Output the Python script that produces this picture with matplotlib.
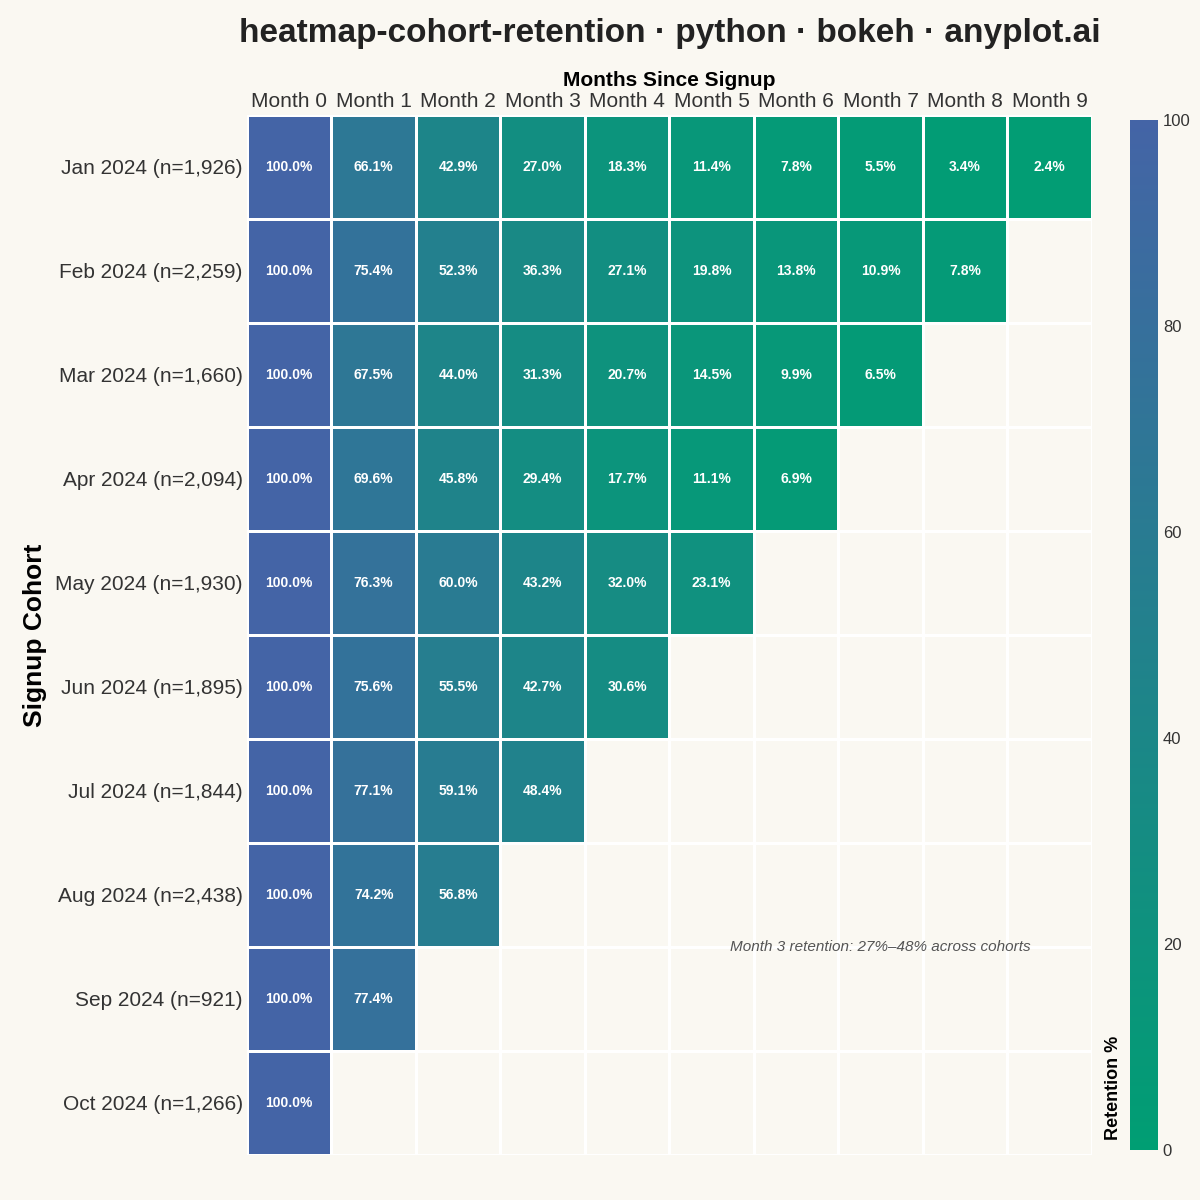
import numpy as np
import matplotlib as mpl
mpl.use('Agg')
import matplotlib.pyplot as plt
from matplotlib.colors import LinearSegmentedColormap

plt.rcParams['font.family'] = ['Liberation Sans', 'DejaVu Sans']

cohorts = ['Jan 2024', 'Feb 2024', 'Mar 2024', 'Apr 2024', 'May 2024',
           'Jun 2024', 'Jul 2024', 'Aug 2024', 'Sep 2024', 'Oct 2024']
sizes = [1926, 2259, 1660, 2094, 1930, 1895, 1844, 2438, 921, 1266]
months = ['Month %d' % i for i in range(10)]
retention = [
    [100.0, 66.1, 42.9, 27.0, 18.3, 11.4, 7.8, 5.5, 3.4, 2.4],
    [100.0, 75.4, 52.3, 36.3, 27.1, 19.8, 13.8, 10.9, 7.8],
    [100.0, 67.5, 44.0, 31.3, 20.7, 14.5, 9.9, 6.5],
    [100.0, 69.6, 45.8, 29.4, 17.7, 11.1, 6.9],
    [100.0, 76.3, 60.0, 43.2, 32.0, 23.1],
    [100.0, 75.6, 55.5, 42.7, 30.6],
    [100.0, 77.1, 59.1, 48.4],
    [100.0, 74.2, 56.8],
    [100.0, 77.4],
    [100.0],
]

bg = '#FAF8F2'
cmap = LinearSegmentedColormap.from_list('ret', ['#009E73', '#4464A6'])

grid = np.full((len(cohorts), len(months)), np.nan)
for i, row in enumerate(retention):
    grid[i, :len(row)] = row
data = np.ma.masked_invalid(grid)

fig = plt.figure(figsize=(12, 12), dpi=100, facecolor=bg)
ax = fig.add_axes([0.2058, 0.0375, 0.704, 0.8667], facecolor=bg)
mesh = ax.pcolormesh(data, cmap=cmap, vmin=0, vmax=100, edgecolors='white', linewidth=1)
ax.set_xlim(0, len(months))
ax.set_ylim(len(cohorts), 0)

for i, row in enumerate(retention):
    for j, v in enumerate(row):
        ax.text(j + 0.5, i + 0.5, f'{v:.1f}%', ha='center', va='center',
                color='white', fontsize=10, fontweight='bold')

ax.xaxis.tick_top()
ax.xaxis.set_label_position('top')
ax.set_xticks(np.arange(len(months)) + 0.5)
ax.set_xticklabels(months, fontsize=15, color='#333333')
ax.set_yticks(np.arange(len(cohorts)) + 0.5)
ax.set_yticklabels([f'{c} (n={n:,})' for c, n in zip(cohorts, sizes)], fontsize=15, color='#333333')
ax.tick_params(length=0, pad=3)
ax.set_xlabel('Months Since Signup', fontsize=15, fontweight='bold', labelpad=4)
ax.set_ylabel('Signup Cohort', fontsize=19, fontweight='bold', labelpad=6)
for s in ax.spines.values():
    s.set_visible(False)

ax.text(7.5, 8.0, 'Month 3 retention: 27%\u201348% across cohorts', ha='center', va='center',
        fontsize=11, style='italic', color='#555555')

fig.suptitle('heatmap-cohort-retention \u00b7 python \u00b7 bokeh \u00b7 anyplot.ai', x=0.558, y=0.985,
             fontsize=24, fontweight='bold', color='#222222')

cax = fig.add_axes([0.9417, 0.0417, 0.0233, 0.858])
cb = fig.colorbar(mesh, cax=cax)
cb.outline.set_visible(False)
cb.set_ticks([0, 20, 40, 60, 80, 100])
cax.tick_params(labelsize=12, length=0, colors='#333333')
cax.yaxis.set_ticks_position('right')
cax.yaxis.set_label_position('left')
cb.set_label('Retention %', fontsize=13, fontweight='bold', y=0.06, ha='center', labelpad=6)

fig.savefig('out.png', dpi=100, facecolor=bg)
